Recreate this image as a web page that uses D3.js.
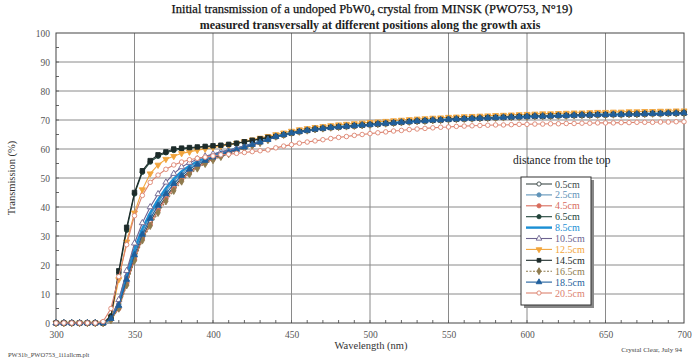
<!DOCTYPE html>
<html>
<head>
<meta charset="utf-8">
<script src="https://cdn.jsdelivr.net/npm/d3@7"></script>
<style>
  body { margin: 0; background: #fff; }
  svg { display: block; font-family: "Liberation Serif", "DejaVu Serif", serif; }
</style>
</head>
<body>
<svg id="chart" width="692" height="361"></svg>
<script>
// wavelengths (nm), one measurement every 5 nm
const lambda = d3.range(300, 701, 5);

// absorption edge part, 300..435 nm (28 values each)
const edge05  = [0,0,0,0,0,0,0, 1.5, 5.5, 14, 22.5, 29.5, 35, 39.5, 43.5, 47, 50, 52.3, 54.1, 55.6, 56.8, 57.9, 58.8, 59.6, 60.5, 61.4, 62.3, 63.2];
const edge25  = [0,0,0,0,0,0,0, 1.5, 6.5, 16, 24.5, 31.5, 37, 41.5, 45.5, 48.8, 51.5, 53.5, 55.1, 56.4, 57.5, 58.4, 59.2, 60, 60.8, 61.6, 62.4, 63.3];
const edge45  = [0,0,0,0,0,0,0, 1.2, 5, 13.5, 22, 29, 34, 38.8, 42.8, 46.3, 49.4, 51.8, 53.7, 55.2, 56.5, 57.6, 58.6, 59.5, 60.4, 61.3, 62.2, 63.1];
const edge65  = [0,0,0,0,0,0,0, 2.5, 17, 32, 44.5, 52, 55.5, 57.5, 58.7, 59.5, 60, 60.3, 60.5, 60.7, 60.9, 61.1, 61.4, 61.9, 62.4, 62.9, 63.4, 63.9];
const edge85  = [0,0,0,0,0,0,0, 1.5, 7, 16.5, 25.5, 32.5, 38, 42.5, 46.5, 49.7, 52.3, 54.2, 55.7, 56.9, 57.9, 58.7, 59.4, 60.1, 60.9, 61.7, 62.5, 63.4];
const edge105 = [0,0,0,0,0,0,0, 1.5, 8, 18, 27.5, 34.5, 40, 44.5, 48.5, 51.5, 53.8, 55.3, 56.5, 57.5, 58.3, 59, 59.6, 60.3, 61, 61.8, 62.6, 63.4];
const edge125 = [0,0,0,0,0,0,0, 2, 15, 28, 38, 46, 51.5, 54.5, 56.5, 57.5, 58.5, 59, 59.6, 60, 60.5, 61, 61.4, 62, 62.6, 63.2, 63.8, 64.4];
const edge145 = [0,0,0,0,0,0,0, 2, 18, 33, 45, 52.5, 56, 58, 59, 60, 60.3, 60.5, 60.7, 60.9, 61.1, 61.3, 61.6, 62, 62.5, 63, 63.5, 64];
const edge165 = [0,0,0,0,0,0,0, 1, 5, 13, 21.5, 28.5, 33.5, 38, 42, 45.6, 48.8, 51.3, 53.3, 54.9, 56.2, 57.3, 58.3, 59.3, 60.2, 61.2, 62.1, 63.1];
const edge185 = [0,0,0,0,0,0,0, 1.5, 6, 15, 23.5, 30.5, 36, 40.5, 44.5, 48, 50.8, 53, 54.7, 56, 57.2, 58.2, 59, 59.8, 60.6, 61.5, 62.3, 63.2];
const edge205 = [0,0,0,0,0,0,0.5, 5, 16, 27, 37, 44, 48.5, 51, 53, 54.5, 55.5, 56.3, 56.8, 57.2, 57.6, 58, 58.2, 58.5, 58.8, 59.1, 59.4, 59.7];

// transparent region, 440..700 nm (53 values each)
const plateauMain = [64.3, 64.9, 65.5, 66, 66.4, 66.8, 67.1, 67.4, 67.6, 67.8, 68, 68.2, 68.4, 68.6, 68.8, 69, 69.2, 69.4, 69.6, 69.7, 69.9, 70, 70.2, 70.3, 70.4, 70.5, 70.6, 70.7, 70.8, 70.9, 71, 71.1, 71.2, 71.3, 71.3, 71.4, 71.5, 71.5, 71.6, 71.7, 71.7, 71.8, 71.8, 71.9, 71.9, 72, 72, 72.1, 72.2, 72.2, 72.3, 72.3, 72.4];
const plateau125 = [65, 65.6, 66.2, 66.7, 67.1, 67.5, 67.8, 68.1, 68.4, 68.6, 68.8, 69, 69.2, 69.4, 69.6, 69.8, 70, 70.2, 70.4, 70.5, 70.7, 70.8, 71, 71.1, 71.2, 71.3, 71.4, 71.5, 71.6, 71.7, 71.8, 71.9, 72, 72.1, 72.2, 72.2, 72.3, 72.4, 72.5, 72.5, 72.6, 72.7, 72.7, 72.8, 72.8, 72.9, 72.9, 73, 73, 73.1, 73.1, 73.2, 73.2];
const plateau205 = [60.4, 61, 61.5, 62, 62.4, 62.8, 63.2, 63.6, 64, 64.3, 64.7, 65, 65.3, 65.6, 65.9, 66.2, 66.4, 66.7, 66.9, 67.1, 67.3, 67.5, 67.6, 67.8, 67.9, 68, 68.1, 68.2, 68.3, 68.3, 68.4, 68.5, 68.5, 68.6, 68.6, 68.7, 68.7, 68.8, 68.8, 68.9, 68.9, 69, 69, 69, 69.1, 69.1, 69.2, 69.2, 69.2, 69.3, 69.3, 69.4, 69.4];

const labels  = ["0.5cm", "2.5cm", "4.5cm", "6.5cm", "8.5cm", "10.5cm", "12.5cm", "14.5cm", "16.5cm", "18.5cm", "20.5cm"];
const colors  = ["#3c4a48", "#5f93b8", "#d86c5c", "#21443a", "#1b8fd4", "#6d6390", "#f2a53c", "#1d2b2a", "#8e7b4e", "#1f5f9c", "#dc836f"];
const symbols = ["circleOpen", "circle", "circle", "circle", "none", "triangleOpen", "triangleDown", "square", "diamond", "triangle", "circleOpen"];
const values  = [
  edge05.concat(plateauMain), edge25.concat(plateauMain), edge45.concat(plateauMain),
  edge65.concat(plateauMain), edge85.concat(plateauMain), edge105.concat(plateauMain),
  edge125.concat(plateau125), edge145.concat(plateauMain), edge165.concat(plateauMain),
  edge185.concat(plateauMain), edge205.concat(plateau205)
];

const svg = d3.select("#chart");
const m = { left: 56, right: 8, top: 33, bottom: 38 };
const W = 692, H = 361;

const x = d3.scaleLinear().domain([300, 700]).range([m.left, W - m.right]);
const y = d3.scaleLinear().domain([0, 100]).range([H - m.bottom, m.top]);

// grid
const grid = svg.append("g").attr("stroke", "#8a8a8a").attr("stroke-width", 1);
grid.selectAll("line.h").data(d3.range(10, 100, 10)).enter().append("line")
  .attr("x1", x(300)).attr("x2", x(700)).attr("y1", d => y(d)).attr("y2", d => y(d));
grid.selectAll("line.v").data(d3.range(350, 700, 50)).enter().append("line")
  .attr("y1", y(0)).attr("y2", y(100)).attr("x1", d => x(d)).attr("x2", d => x(d));

// axes
const yAxis = svg.append("g").attr("transform", `translate(${m.left},0)`)
  .call(d3.axisLeft(y).tickValues(d3.range(0, 101, 10)).tickSize(0).tickPadding(6));
const xAxis = svg.append("g").attr("transform", `translate(0,${H - m.bottom})`)
  .call(d3.axisBottom(x).tickValues(d3.range(300, 701, 50)).tickSize(0).tickPadding(8));
[yAxis, xAxis].forEach(a => {
  a.select(".domain").remove();
  a.selectAll("text").attr("font-family", "Liberation Serif, serif").attr("font-size", 9.5).attr("fill", "#555");
});

// minor ticks
svg.append("g").attr("stroke", "#666").selectAll("line").data(d3.range(5, 100, 5)).enter().append("line")
  .attr("x1", m.left).attr("x2", m.left + 3).attr("y1", d => y(d)).attr("y2", d => y(d));
svg.append("g").attr("stroke", "#666").selectAll("line").data(d3.range(310, 700, 10)).enter().append("line")
  .attr("y1", y(0)).attr("y2", y(0) - 3).attr("x1", d => x(d)).attr("x2", d => x(d));

// frame
svg.append("rect").attr("x", x(300)).attr("y", y(100))
  .attr("width", x(700) - x(300)).attr("height", y(0) - y(100))
  .attr("fill", "none").attr("stroke", "#444").attr("stroke-width", 1);

const line = d3.line().x((d, i) => x(lambda[i])).y(d => y(d));

function marker(g, type, color, size) {
  if (type === "none") return;
  const open = type.endsWith("Open");
  const base = type.replace("Open", "");
  let sym = d3.symbolCircle, rot = 0;
  if (base === "square") sym = d3.symbolSquare;
  if (base === "diamond") sym = d3.symbolDiamond;
  if (base === "triangle") sym = d3.symbolTriangle;
  if (base === "triangleDown") { sym = d3.symbolTriangle; rot = 180; }
  g.attr("d", d3.symbol().type(sym).size(size))
    .attr("fill", open ? "#fff" : color)
    .attr("stroke", color).attr("stroke-width", 0.9)
    .attr("transform", function () { return this.getAttribute("transform") + (rot ? ` rotate(${rot})` : ""); });
}

// series
values.forEach((vals, k) => {
  const g = svg.append("g");
  g.append("path").datum(vals).attr("d", line).attr("fill", "none")
    .attr("stroke", colors[k]).attr("stroke-width", k === 4 ? 2.4 : 1.1)
    .attr("stroke-dasharray", k === 8 ? "2,1.5" : null);
  if (symbols[k] !== "none") {
    g.selectAll("path.pt").data(vals).enter().append("path").attr("class", "pt")
      .attr("transform", (d, i) => `translate(${x(lambda[i])},${y(d)})`)
      .call(marker, symbols[k], colors[k], symbols[k] === "square" ? 20 : 16);
  }
});

// titles
const t1 = svg.append("text").attr("x", 372).attr("y", 13).attr("text-anchor", "middle")
  .attr("font-size", 12.5).attr("fill", "#111").attr("stroke", "#111").attr("stroke-width", 0.25);
t1.append("tspan").text("Initial transmission of a undoped PbW0");
t1.append("tspan").attr("font-size", 8).attr("dy", 3).text("4");
t1.append("tspan").attr("dy", -3).text(" crystal from MINSK (PWO753, N°19)");
svg.append("text").attr("x", 370).attr("y", 29).attr("text-anchor", "middle")
  .attr("font-size", 12).attr("font-weight", "bold").attr("fill", "#222")
  .text("measured transversally at different positions along the growth axis");

svg.append("text").attr("transform", `translate(15,${(y(0) + y(100)) / 2}) rotate(-90)`)
  .attr("text-anchor", "middle").attr("font-size", 10.5).attr("fill", "#333").text("Transmission (%)");
svg.append("text").attr("x", 371).attr("y", 349).attr("text-anchor", "middle")
  .attr("font-size", 10.5).attr("fill", "#333").text("Wavelength (nm)");
svg.append("text").attr("x", 8).attr("y", 357).attr("font-size", 6.5).attr("fill", "#444").text("PW31b_PWO753_1i1allcm.plt");
svg.append("text").attr("x", 682).attr("y", 352).attr("text-anchor", "end").attr("font-size", 7).attr("fill", "#444").text("Crystal Clear, July 94");

// legend
svg.append("text").attr("x", 513).attr("y", 164).attr("font-size", 11.5).attr("fill", "#222").text("distance from the top");
const lg = svg.append("g").attr("transform", "translate(521,177)");
lg.append("rect").attr("x", 3).attr("y", 3).attr("width", 70).attr("height", 128).attr("fill", "#888");
lg.append("rect").attr("width", 70).attr("height", 128).attr("fill", "#fff").attr("stroke", "#333");
labels.forEach((lab, k) => {
  const row = lg.append("g").attr("transform", `translate(0,${7 + k * 10.9})`);
  row.append("line").attr("x1", 5).attr("x2", 31).attr("stroke", colors[k])
    .attr("stroke-width", k === 4 ? 2.4 : 1.1).attr("stroke-dasharray", k === 8 ? "2,1.5" : null);
  if (symbols[k] !== "none") {
    row.append("path").attr("transform", "translate(18,0)").call(marker, symbols[k], colors[k], 14);
  }
  row.append("text").attr("x", 34).attr("y", 3.5).attr("font-size", 10).attr("fill", colors[k]).text(lab);
});
</script>
</body>
</html>
